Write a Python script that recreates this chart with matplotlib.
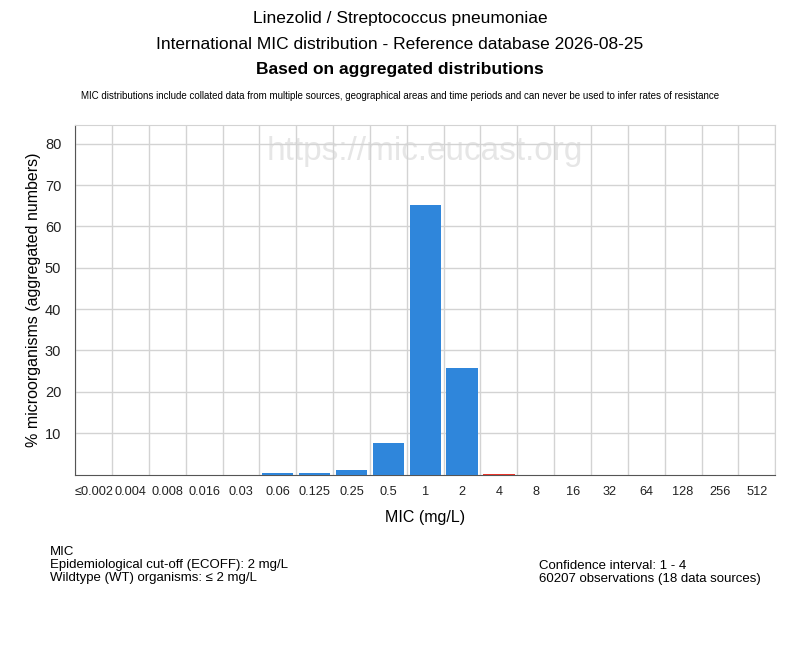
import matplotlib
matplotlib.use("Agg")
import matplotlib.pyplot as plt

plt.rcParams['font.family'] = ['Liberation Sans', 'DejaVu Sans']

# MIC categories and aggregated percentages
mic_labels = ['≤0.002', '0.004', '0.008', '0.016', '0.03', '0.06', '0.125', '0.25',
              '0.5', '1', '2', '4', '8', '16', '32', '64', '128', '256', '512']
percent = [0, 0, 0, 0, 0, 0.3, 0.3, 1.1, 7.6, 65.3, 25.8, 0.2, 0, 0, 0, 0, 0, 0, 0]
ecoff_index = 10  # 2 mg/L; above this -> non-wildtype

blue = '#2f86db'
red = '#e8352b'
colors = [blue if i <= ecoff_index else red for i in range(len(mic_labels))]

fig = plt.figure(figsize=(8, 6.5), dpi=100)
ax = fig.add_axes([0.094, 0.27, 0.875, 0.538])

x = list(range(len(mic_labels)))
ax.bar(x, percent, width=0.85, color=colors, zorder=3)

ax.set_xlim(-0.5, len(mic_labels) - 0.5)
ax.set_ylim(0, 84.6)
ax.set_yticks([10, 20, 30, 40, 50, 60, 70, 80])
ax.set_xticks(x)
ax.set_xticklabels(mic_labels, fontsize=9.2)
ax.set_xticks([i - 0.5 for i in range(len(mic_labels) + 1)], minor=True)
ax.grid(True, which='minor', axis='x', color='#d3d3d3', lw=1, zorder=0)
ax.grid(True, which='major', axis='y', color='#d3d3d3', lw=1, zorder=0)
ax.tick_params(axis='both', which='both', length=0, colors='#222222')
ax.tick_params(axis='y', labelsize=10.5, pad=10)
ax.tick_params(axis='x', pad=8)
for s in ['top', 'right']:
    ax.spines[s].set_color('#d3d3d3')
for s in ['left', 'bottom']:
    ax.spines[s].set_color('#555555')

ax.set_xlabel('MIC (mg/L)', fontsize=11.5, labelpad=9)
ax.set_ylabel('% microorganisms (aggregated numbers)', fontsize=11.5, labelpad=3)

ax.text(0.5, 0.923, 'https://mic.eucast.org', transform=ax.transAxes, ha='center',
        va='center', fontsize=24, color='#e6e6e6', zorder=1)

fig.text(0.5, 0.971, 'Linezolid / Streptococcus pneumoniae', ha='center', va='center', fontsize=12.5)
fig.text(0.5, 0.932, 'International MIC distribution - Reference database 2026-08-25',
         ha='center', va='center', fontsize=12.5)
fig.text(0.5, 0.893, 'Based on aggregated distributions', ha='center', va='center',
         fontsize=12.5, fontweight='bold')
fig.text(0.5, 0.852, 'MIC distributions include collated data from multiple sources, geographical areas '
         'and time periods and can never be used to infer rates of resistance',
         ha='center', va='center', fontsize=7)

fig.text(0.062, 0.131, 'MIC\nEpidemiological cut-off (ECOFF): 2 mg/L\nWildtype (WT) organisms: ≤ 2 mg/L',
         ha='left', va='center', fontsize=9.5, linespacing=1.1)
fig.text(0.674, 0.119, 'Confidence interval: 1 - 4\n60207 observations (18 data sources)',
         ha='left', va='center', fontsize=9.5, linespacing=1.1)

fig.savefig('out.png', dpi=100)
